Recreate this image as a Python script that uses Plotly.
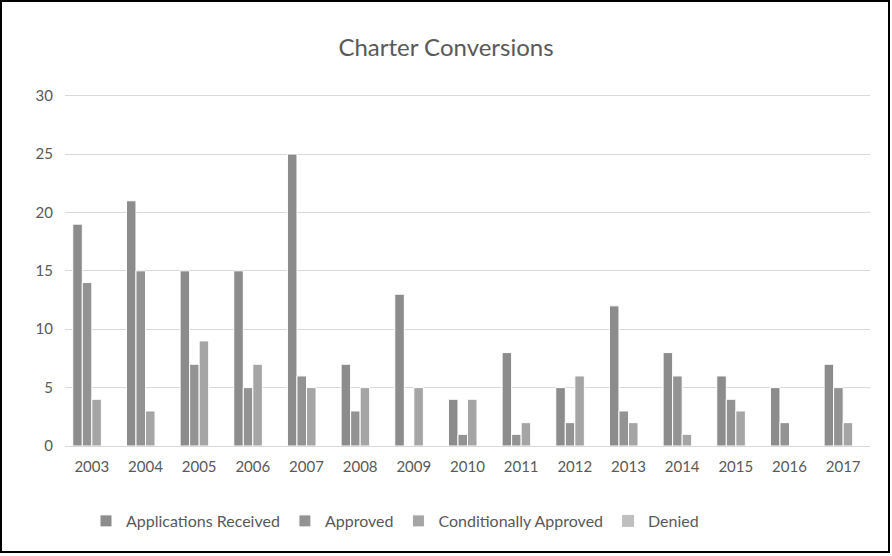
import plotly.graph_objects as go

years = ["2003", "2004", "2005", "2006", "2007", "2008", "2009", "2010",
         "2011", "2012", "2013", "2014", "2015", "2016", "2017"]
applications_received = [19, 21, 15, 15, 25, 7, 13, 4, 8, 5, 12, 8, 6, 5, 7]
approved = [14, 15, 7, 5, 6, 3, 0, 1, 1, 2, 3, 6, 4, 2, 5]
conditionally_approved = [4, 3, 9, 7, 5, 5, 5, 4, 2, 6, 2, 1, 3, 0, 2]
denied = [0, 0, 0, 0, 0, 0, 0, 0, 0, 0, 0, 0, 0, 0, 0]
y_ticks = [0, 5, 10, 15, 20, 25, 30]

series = [
    ("Applications Received", applications_received, "#8c8c8c", 1),
    ("Approved", approved, "#939393", 1),
    ("Conditionally Approved", conditionally_approved, "#a5a5a5", 1),
    ("Denied", denied, "#bfbfbf", 0),
]

FONT = "Lato, 'Open Sans', sans-serif"
W, H = 892, 556
L, R, T, B = 65, 22, 84, 110

fig = go.Figure()
for name, vals, color, lw in series:
    fig.add_trace(go.Bar(
        x=years, y=vals, name=name,
        marker=dict(color=color, line=dict(color="white", width=lw)),
    ))

pw = W - L - R
ph = H - T - B
fig.update_layout(
    width=W, height=H,
    margin=dict(l=L, r=R, t=T, b=B),
    paper_bgcolor="white", plot_bgcolor="white",
    barmode="group", bargap=0.29, bargroupgap=0,
    title=dict(text="Charter Conversions", x=0.5, xanchor="center",
               y=1 - 48 / H, yanchor="middle",
               font=dict(family=FONT, size=24, color="#595959")),
    font=dict(family=FONT, color="#595959"),
    showlegend=True,
    legend=dict(orientation="h", x=(86 - L) / pw, xanchor="left",
                y=-(521 - 446) / ph, yanchor="middle",
                font=dict(family=FONT, size=16, color="#595959"),
                itemwidth=30, traceorder="normal"),
    xaxis=dict(showgrid=False, showline=False,
               ticks="", ticklabelstandoff=10,
               tickfont=dict(family=FONT, size=15, color="#595959"),
               fixedrange=True),
    yaxis=dict(range=[0, 31], tickvals=y_ticks, showgrid=True, gridcolor="#d9d9d9",
               gridwidth=1, zeroline=True, zerolinecolor="#d9d9d9", zerolinewidth=1,
               showline=False, ticks="", ticklabelstandoff=11,
               tickfont=dict(family=FONT, size=15, color="#595959"),
               fixedrange=True),
    shapes=[dict(type="rect", xref="paper", yref="paper",
                 x0=(1 - L) / pw, x1=(W - 3 - L) / pw,
                 y0=-(H - 4 - T - ph) / ph, y1=1 + (T - 1) / ph,
                 line=dict(color="black", width=2), fillcolor="rgba(0,0,0,0)")],
)

fig.write_html("out.html", config={"displayModeBar": False},
               post_script="document.body.style.margin='0';document.body.style.padding='0';")
